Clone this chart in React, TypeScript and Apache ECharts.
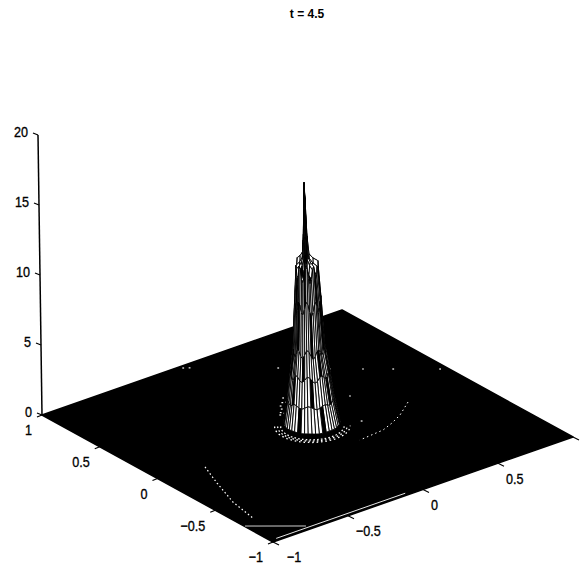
import React, { useEffect, useRef } from "react";
import * as echarts from "echarts";

const titleText = "t = 4.5";
const zTicks = [0, 5, 10, 15, 20];
const xTicks = [-1, -0.5, 0, 0.5];
const yTicks = [1, 0.5, 0, -0.5, -1];
const tickName = (v: number) => String(v).replace("-", "\u2212");

// surface of the pulse: ring radius -> height, and a per-meridian factor read from the silhouette
const ringRadius = [0, 0.004, 0.01, 0.018, 0.036, 0.058, 0.07, 0.085, 0.105, 0.125, 0.15];
const ringHeight = [17.36, 15.2, 12.9, 11.7, 11.4, 11.2, 8.8, 5.6, 3.9, 2.0, 0.3];
const meridianFactor = [
  1.0, 0.97, 0.93, 0.98, 1.04, 1.02, 0.95, 0.92, 0.97, 1.03, 1.05, 0.99, 0.94, 0.96, 1.02, 1.06,
  1.01, 0.95, 0.93, 0.98, 1.03, 1.01, 0.96, 0.92, 0.97, 1.04, 1.02, 0.96, 0.94, 0.99, 1.05, 1.03,
  0.97, 0.93, 0.96, 1.02, 1.04, 1.0, 0.95, 0.98, 1.03, 0.99, 0.94, 0.97, 1.05, 1.02, 0.96, 0.93,
];
const rippleRadius = [0.168, 0.184, 0.2];

// light marks on the black floor, in floor coordinates [x, y]
const rightArc = [[0.587, -0.108], [0.458, -0.206], [0.366, -0.256], [0.278, -0.293], [0.11, -0.311]];
const leftArc = [[-0.721, -0.049], [-0.791, -0.244], [-0.867, -0.48], [-0.904, -0.702]];
const frontStreak = [[-0.996, -0.752], [-0.747, -0.957]];
const edgeStreak = [[-0.96, -0.976], [-0.1, -0.976]];
const floorSpecks = [
  [-0.077, 0.977], [-0.05, 0.957], [0.31, 0.657], [0.514, 0.473], [0.648, 0.362], [0.771, 0.26], [0.962, 0.102],
  [0.395, 0.146], [0.257, -0.134], [0.038, 0.283], [-0.03, 0.198], [0.108, 0.352], [0.02, 0.25], [0.07, 0.31],
  [-0.01, 0.22], [0.05, 0.24], [0.0, 0.2], [0.09, 0.3],
];

// projection of (x, y, z) onto the page plane
const project = (x: number, y: number, z: number): [number, number] => [
  307.5 + 150 * x - 115.5 * y - 0.2 * z,
  426 - 52.5 * x - 63.5 * y - 14 * z,
];

const buildFacets = (): number[][] => {
  const n = meridianFactor.length;
  const out: { k: number; p: number[] }[] = [];
  const pt = (i: number, j: number) => {
    const a = ((j % n) / n) * 2 * Math.PI;
    const r = ringRadius[i];
    return [
      r * (Math.cos(a) + 0.12),
      r * (Math.sin(a) - 0.1),
      i === 0 ? ringHeight[i] : ringHeight[i] * meridianFactor[j % n],
    ];
  };
  for (let i = 0; i < ringRadius.length - 1; i++) {
    for (let j = 0; j < n; j++) {
      const q = [pt(i, j), pt(i + 1, j), pt(i + 1, j + 1), pt(i, j + 1)];
      const cx = q.reduce((s, v) => s + v[0], 0) / 4;
      const cy = q.reduce((s, v) => s + v[1], 0) / 4;
      const lit = (i * 5 + j * 3) % 7 === 0 ? 0 : 1;
      out.push({ k: project(cx, cy, 0)[1], p: [...q.flat(), lit] });
    }
  }
  out.sort((a, b) => a.k - b.k);
  return out.map((o) => o.p);
};

const rippleArcs = rippleRadius.map((r) => {
  const pts: number[][] = [];
  for (let d = 142; d <= 322; d += 6) {
    const a = (d * Math.PI) / 180;
    pts.push([0.02 + r * Math.cos(a), -0.017 + r * Math.sin(a)]);
  }
  return pts;
});

const App = () => {
  const ref = useRef<HTMLDivElement>(null);
  useEffect(() => {
    const chart = echarts.init(ref.current!, undefined, { renderer: "svg" });
    const font = "'Liberation Sans',sans-serif";

    const toScreen = (api: any, p: number[]) => api.coord(project(p[0], p[1], p[2] ?? 0));

    const lineSeries = (name: string, pts: number[][], stroke: string, lineWidth: number, lineDash?: number[]) => ({
      type: "custom",
      name,
      silent: true,
      clip: false,
      data: [0],
      encode: { x: [], y: [] },
      renderItem: (_: any, api: any) => ({
        type: "polyline",
        shape: { points: pts.map((p) => toScreen(api, p)) },
        style: { stroke, fill: "none", lineWidth, lineDash },
      }),
    });

    const textElement = (api: any, text: string, at: number[], dx: number, dy: number, align: string) => {
      const s = toScreen(api, at);
      return {
        type: "text",
        x: s[0] + dx,
        y: s[1] + dy,
        scaleX: 0.84,
        style: {
          text,
          fontFamily: font,
          fontSize: 15,
          fill: "#000",
          stroke: "#000",
          lineWidth: 0.35,
          align,
          verticalAlign: "middle",
        },
      };
    };
    const tickElement = (api: any, at: number[], dx: number, dy: number) => {
      const s = toScreen(api, at);
      return {
        type: "line",
        shape: { x1: s[0], y1: s[1], x2: s[0] + dx, y2: s[1] + dy },
        style: { stroke: "#000", lineWidth: 1.2 },
      };
    };

    const series: any[] = [
      {
        type: "custom",
        name: "floor",
        silent: true,
        clip: false,
        data: [0],
        encode: { x: [], y: [] },
        renderItem: (_: any, api: any) => ({
          type: "polygon",
          shape: { points: [[-1, 1], [-1, -1], [1, -1], [1, 1]].map((p) => toScreen(api, p)) },
          style: { fill: "#000", stroke: "#000", lineWidth: 1.5, lineJoin: "round" },
        }),
      },
      lineSeries("right arc", rightArc, "#fff", 1, [1.5, 3]),
      lineSeries("left arc", leftArc, "#fff", 1.2, [1.5, 2.5]),
      lineSeries("front streak", frontStreak, "#cfcfcf", 1),
      lineSeries("edge streak", edgeStreak, "#e8e8e8", 1),
      ...rippleArcs.map((pts, i) => lineSeries(`ripple ${i}`, pts, "#fff", 1.3, [1.6, 2.2 + i * 0.3])),
      {
        type: "custom",
        name: "specks",
        silent: true,
        clip: false,
        data: floorSpecks,
        encode: { x: [], y: [] },
        renderItem: (_: any, api: any) => {
          const s = toScreen(api, [api.value(0), api.value(1)]);
          return { type: "rect", shape: { x: s[0] - 0.8, y: s[1] - 0.6, width: 1.8, height: 1.2 }, style: { fill: "#fff" } };
        },
      },
      {
        type: "custom",
        name: "surface",
        silent: true,
        clip: false,
        data: buildFacets(),
        encode: { x: [], y: [] },
        renderItem: (_: any, api: any) => {
          const points = [0, 3, 6, 9].map((o) =>
            toScreen(api, [api.value(o), api.value(o + 1), api.value(o + 2)])
          );
          return {
            type: "polygon",
            shape: { points },
            style: { fill: api.value(12) ? "#fff" : "#000", stroke: "#000", lineWidth: 0.9 },
          };
        },
      },
      {
        type: "custom",
        name: "axes",
        silent: true,
        clip: false,
        data: [0],
        encode: { x: [], y: [] },
        renderItem: (_: any, api: any) => ({
          type: "group",
          children: [
            {
              type: "polyline",
              shape: { points: [[-1, 1, 0], [-1, 1, 20]].map((p) => toScreen(api, p)) },
              style: { stroke: "#000", fill: "none", lineWidth: 1.5 },
            },
            ...zTicks.map((z) => tickElement(api, [-1, 1, z], -5, -2)),
            ...zTicks.map((z) => textElement(api, String(z), [-1, 1, z], -10, -3, "right")),
            ...yTicks.map((y) => tickElement(api, [-1, y, 0], -5, 2)),
            ...yTicks.map((y) => textElement(api, tickName(y), [-1, y, 0], -10, 15, "right")),
            ...xTicks.map((x) => tickElement(api, [x, -1, 0], 6, 3)),
            ...xTicks.map((x) => textElement(api, tickName(x), [x, -1, 0], x === -1 ? 14 : 8, 15, "left")),
            tickElement(api, [1, -1, 0], 6, 3),
          ],
        }),
      },
    ];

    chart.setOption({
      animation: false,
      backgroundColor: "#fff",
      title: {
        text: titleText,
        left: 302,
        top: 3,
        textAlign: "center",
        textStyle: { fontFamily: font, fontSize: 12, fontWeight: "bold", color: "#000" },
      },
      grid: { left: 0, right: 0, top: 0, bottom: 0 },
      xAxis: { type: "value", min: 0, max: 582, show: false },
      yAxis: { type: "value", min: 0, max: 573, inverse: true, show: false },
      series,
    });
    return () => chart.dispose();
  }, []);
  return <div ref={ref} style={{ position: "absolute", left: 0, top: 0, width: 582, height: 573 }} />;
};

export default App;
